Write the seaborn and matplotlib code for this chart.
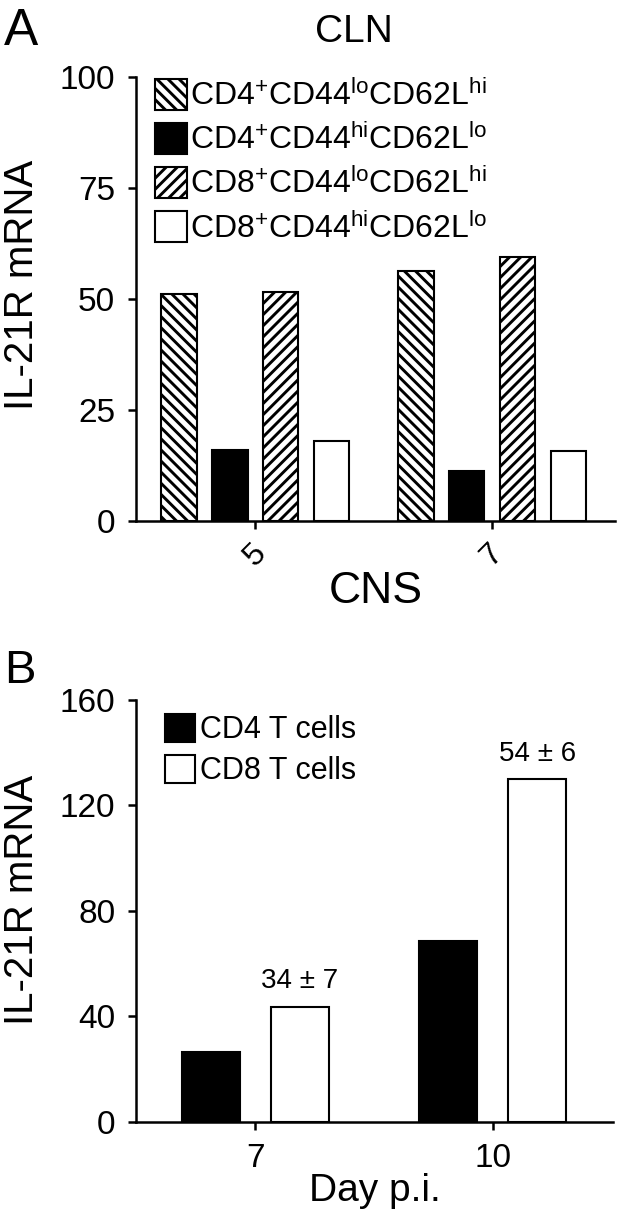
import matplotlib
matplotlib.use("Agg")
import pandas as pd
import matplotlib.pyplot as plt
import seaborn as sns
from matplotlib.patches import Patch

# Panel A data (CLN / CNS, day 5 and 7)
days_a = ["5", "7"]
subsets_a = [
    "CD4$^{+}$CD44$^{lo}$CD62L$^{hi}$",
    "CD4$^{+}$CD44$^{hi}$CD62L$^{lo}$",
    "CD8$^{+}$CD44$^{lo}$CD62L$^{hi}$",
    "CD8$^{+}$CD44$^{hi}$CD62L$^{lo}$",
]
values_a = [
    [51.1, 56.4],   # CD4 naive
    [16.0, 11.3],   # CD4 activated
    [51.6, 59.4],   # CD8 naive
    [18.0, 15.8],   # CD8 activated
]
colors_a = ["white", "black", "white", "white"]
hatches_a = ["\\\\\\", "", "///", ""]

# Panel B data (day p.i.)
days_b = ["7", "10"]
cells_b = ["CD4 T cells", "CD8 T cells"]
values_b = [
    [26.5, 68.6],
    [43.6, 130.0],
]
colors_b = ["black", "white"]
notes_b = ["34 ± 7", "54 ± 6"]

sns.set_style("ticks", {"axes.edgecolor": "black", "xtick.color": "black",
                        "ytick.color": "black", "text.color": "black",
                        "axes.labelcolor": "black"})
plt.rcParams["font.family"] = ["Liberation Sans", "DejaVu Sans"]
plt.rcParams["mathtext.fontset"] = "custom"
plt.rcParams["mathtext.rm"] = "Liberation Sans"
plt.rcParams["mathtext.it"] = "Liberation Sans"
plt.rcParams["mathtext.default"] = "regular"
plt.rcParams["hatch.linewidth"] = 2.1
plt.rcParams["axes.linewidth"] = 1.8

df_a = pd.DataFrame(
    [(d, s, values_a[i][j]) for i, s in enumerate(subsets_a) for j, d in enumerate(days_a)],
    columns=["day", "subset", "value"],
)
df_b = pd.DataFrame(
    [(d, c, values_b[i][j]) for i, c in enumerate(cells_b) for j, d in enumerate(days_b)],
    columns=["day", "cell", "value"],
)

fig = plt.figure(figsize=(6.18, 12.12), dpi=100)
ax_a = fig.add_axes([0.220, 0.570, 0.775, 0.3665])
ax_b = fig.add_axes([0.220, 0.0743, 0.772, 0.3482])

# ---- panel A
sns.barplot(data=df_a, x="day", y="value", hue="subset", order=days_a, hue_order=subsets_a,
            palette=dict(zip(subsets_a, colors_a)), saturation=1, width=0.86, gap=0.31,
            edgecolor="black", linewidth=1.5, legend=False, ax=ax_a)
for cont, h in zip(ax_a.containers, hatches_a):
    for bar in cont:
        bar.set_hatch(h)

ax_a.set_ylim(0, 100)
ax_a.set_xlim(-0.504, 1.517)
ax_a.set_yticks([0, 25, 50, 75, 100])
ax_a.tick_params(axis="both", length=6, width=1.8, labelsize=24, pad=9)
ax_a.tick_params(axis="x", labelsize=23, pad=6)
for lab in ax_a.get_xticklabels():
    lab.set_rotation(45)
ax_a.set_ylabel("IL-21R mRNA", fontsize=29)
ax_a.yaxis.set_label_coords(-0.198, 0.533)
ax_a.set_xlabel("CNS", fontsize=32)
ax_a.xaxis.set_label_coords(0.5, -0.112)
sns.despine(ax=ax_a)

handles_a = [Patch(facecolor=c, edgecolor="black", hatch=h, linewidth=1.5)
             for c, h in zip(colors_a, hatches_a)]
ax_a.legend(handles_a, subsets_a, loc="upper left", bbox_to_anchor=(0.04, 0.995),
            frameon=False, fontsize=23, handlelength=1.0, handleheight=1.1,
            handletextpad=0.1, labelspacing=0.34, borderpad=0, borderaxespad=0)

# ---- panel B
sns.barplot(data=df_b, x="day", y="value", hue="cell", order=days_b, hue_order=cells_b,
            palette=dict(zip(cells_b, colors_b)), saturation=1, width=0.75, gap=0.35,
            edgecolor="black", linewidth=1.5, legend=False, ax=ax_b)

for bar, note in zip(ax_b.containers[1], notes_b):
    ax_b.text(bar.get_x() + bar.get_width() / 2, bar.get_height() + 7, note,
              ha="center", va="baseline", fontsize=20)

ax_b.set_ylim(0, 160)
ax_b.set_xlim(-0.502, 1.506)
ax_b.set_yticks([0, 40, 80, 120, 160])
ax_b.tick_params(axis="both", length=6, width=1.8, labelsize=24, pad=9)
ax_b.set_ylabel("IL-21R mRNA", fontsize=29)
ax_b.yaxis.set_label_coords(-0.199, 0.526)
ax_b.set_xlabel("Day p.i.", fontsize=28)
ax_b.xaxis.set_label_coords(0.5, -0.121)
sns.despine(ax=ax_b)

handles_b = [Patch(facecolor=c, edgecolor="black", linewidth=1.5) for c in colors_b]
ax_b.legend(handles_b, cells_b, loc="upper left", bbox_to_anchor=(0.06, 0.967),
            frameon=False, fontsize=22, handlelength=1.0, handleheight=1.05,
            handletextpad=0.15, labelspacing=0.3, borderpad=0, borderaxespad=0)

# panel letters and title
fig.text(0.006, 0.9629, "A", fontsize=37, va="baseline")
fig.text(0.573, 0.9653, "CLN", fontsize=28, ha="center", va="baseline")
fig.text(0.006, 0.4365, "B", fontsize=34, va="baseline")

fig.savefig("out.png", dpi=100)
